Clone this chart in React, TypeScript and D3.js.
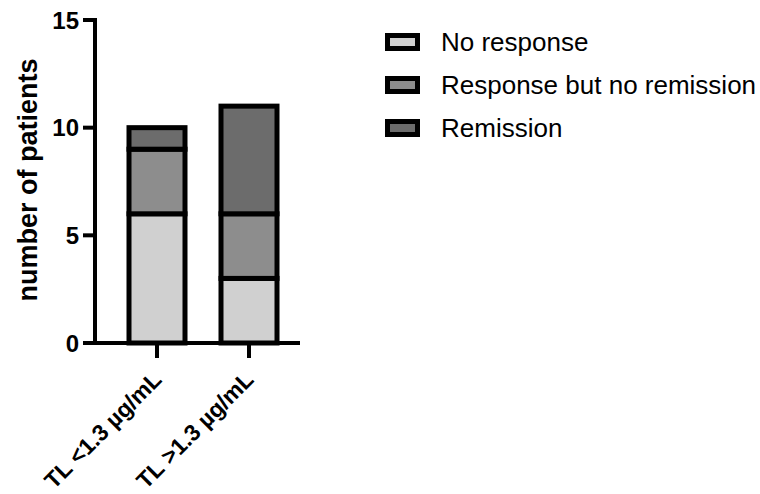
import React from "react";
import * as d3 from "d3";

const categories = ["TL <1.3 µg/mL", "TL >1.3 µg/mL"];
const seriesNames = ["No response", "Response but no remission", "Remission"];
const noResponse = [6, 3];
const responseNoRemission = [3, 3];
const remission = [1, 5];
const yTicks = [0, 5, 10, 15];
const colors = ["#d0d0d0", "#8d8d8d", "#6c6c6c"];

export default function App() {
  const W = 760, H = 494;
  const font = "'Liberation Sans', Arial, Helvetica, sans-serif";
  const y = d3.scaleLinear().domain([0, 15]).range([343, 20]);
  const x = d3.scalePoint<string>().domain(categories).range([157, 249]);
  const barW = 56;
  const rows = categories.map((c, i) => ({ cat: c, vals: [noResponse[i], responseNoRemission[i], remission[i]] }));
  const stacked = rows.map(r => {
    let acc = 0;
    return r.vals.map((v, k) => { const s = acc; acc += v; return { k, y0: s, y1: acc }; });
  });
  const axisX = 95;
  return (
    <svg width={W} height={H} style={{ position: "absolute", left: 0, top: 0, background: "#fff" }}>
      {rows.map((r, i) => (
        <g key={r.cat}>
          {stacked[i].map(s => (
            <rect key={s.k} x={x(r.cat)! - barW / 2} y={y(s.y1)} width={barW} height={y(s.y0) - y(s.y1)}
              fill={colors[s.k]} stroke="#000" strokeWidth={5} />
          ))}
        </g>
      ))}
      {/* y axis */}
      <line x1={axisX} x2={axisX} y1={y(15) - 2} y2={y(0) + 2} stroke="#000" strokeWidth={4} />
      {yTicks.map(t => (
        <g key={t}>
          <line x1={axisX - 12} x2={axisX} y1={y(t)} y2={y(t)} stroke="#000" strokeWidth={4} />
          <text x={axisX - 16} y={y(t)} dy="0.36em" textAnchor="end" fontFamily={font} fontWeight="bold" fontSize={24} fill="#000">{t}</text>
        </g>
      ))}
      {/* x axis */}
      <line x1={axisX - 2} x2={300} y1={y(0)} y2={y(0)} stroke="#000" strokeWidth={4} />
      {categories.map(c => (
        <g key={c}>
          <line x1={x(c)!} x2={x(c)!} y1={y(0)} y2={y(0) + 15} stroke="#000" strokeWidth={4} />
          <text transform={`translate(${x(c)! + 6},${y(0) + 38}) rotate(-45)`} textAnchor="end" fontFamily={font} fontWeight="bold" fontSize={23} fill="#000">{c}</text>
        </g>
      ))}
      <text transform={`translate(37,180) rotate(-90)`} textAnchor="middle" fontFamily={font} fontWeight="bold" fontSize={27} fill="#000">number of patients</text>
      {/* legend */}
      {seriesNames.map((n, k) => (
        <g key={n} transform={`translate(0,${42 + k * 43})`}>
          <rect x={387.5} y={-6.5} width={30} height={13} fill={colors[k]} stroke="#000" strokeWidth={5} />
          <text x={441} y={9.3} fontFamily={font} fontSize={26} fill="#000">{n}</text>
        </g>
      ))}
    </svg>
  );
}
